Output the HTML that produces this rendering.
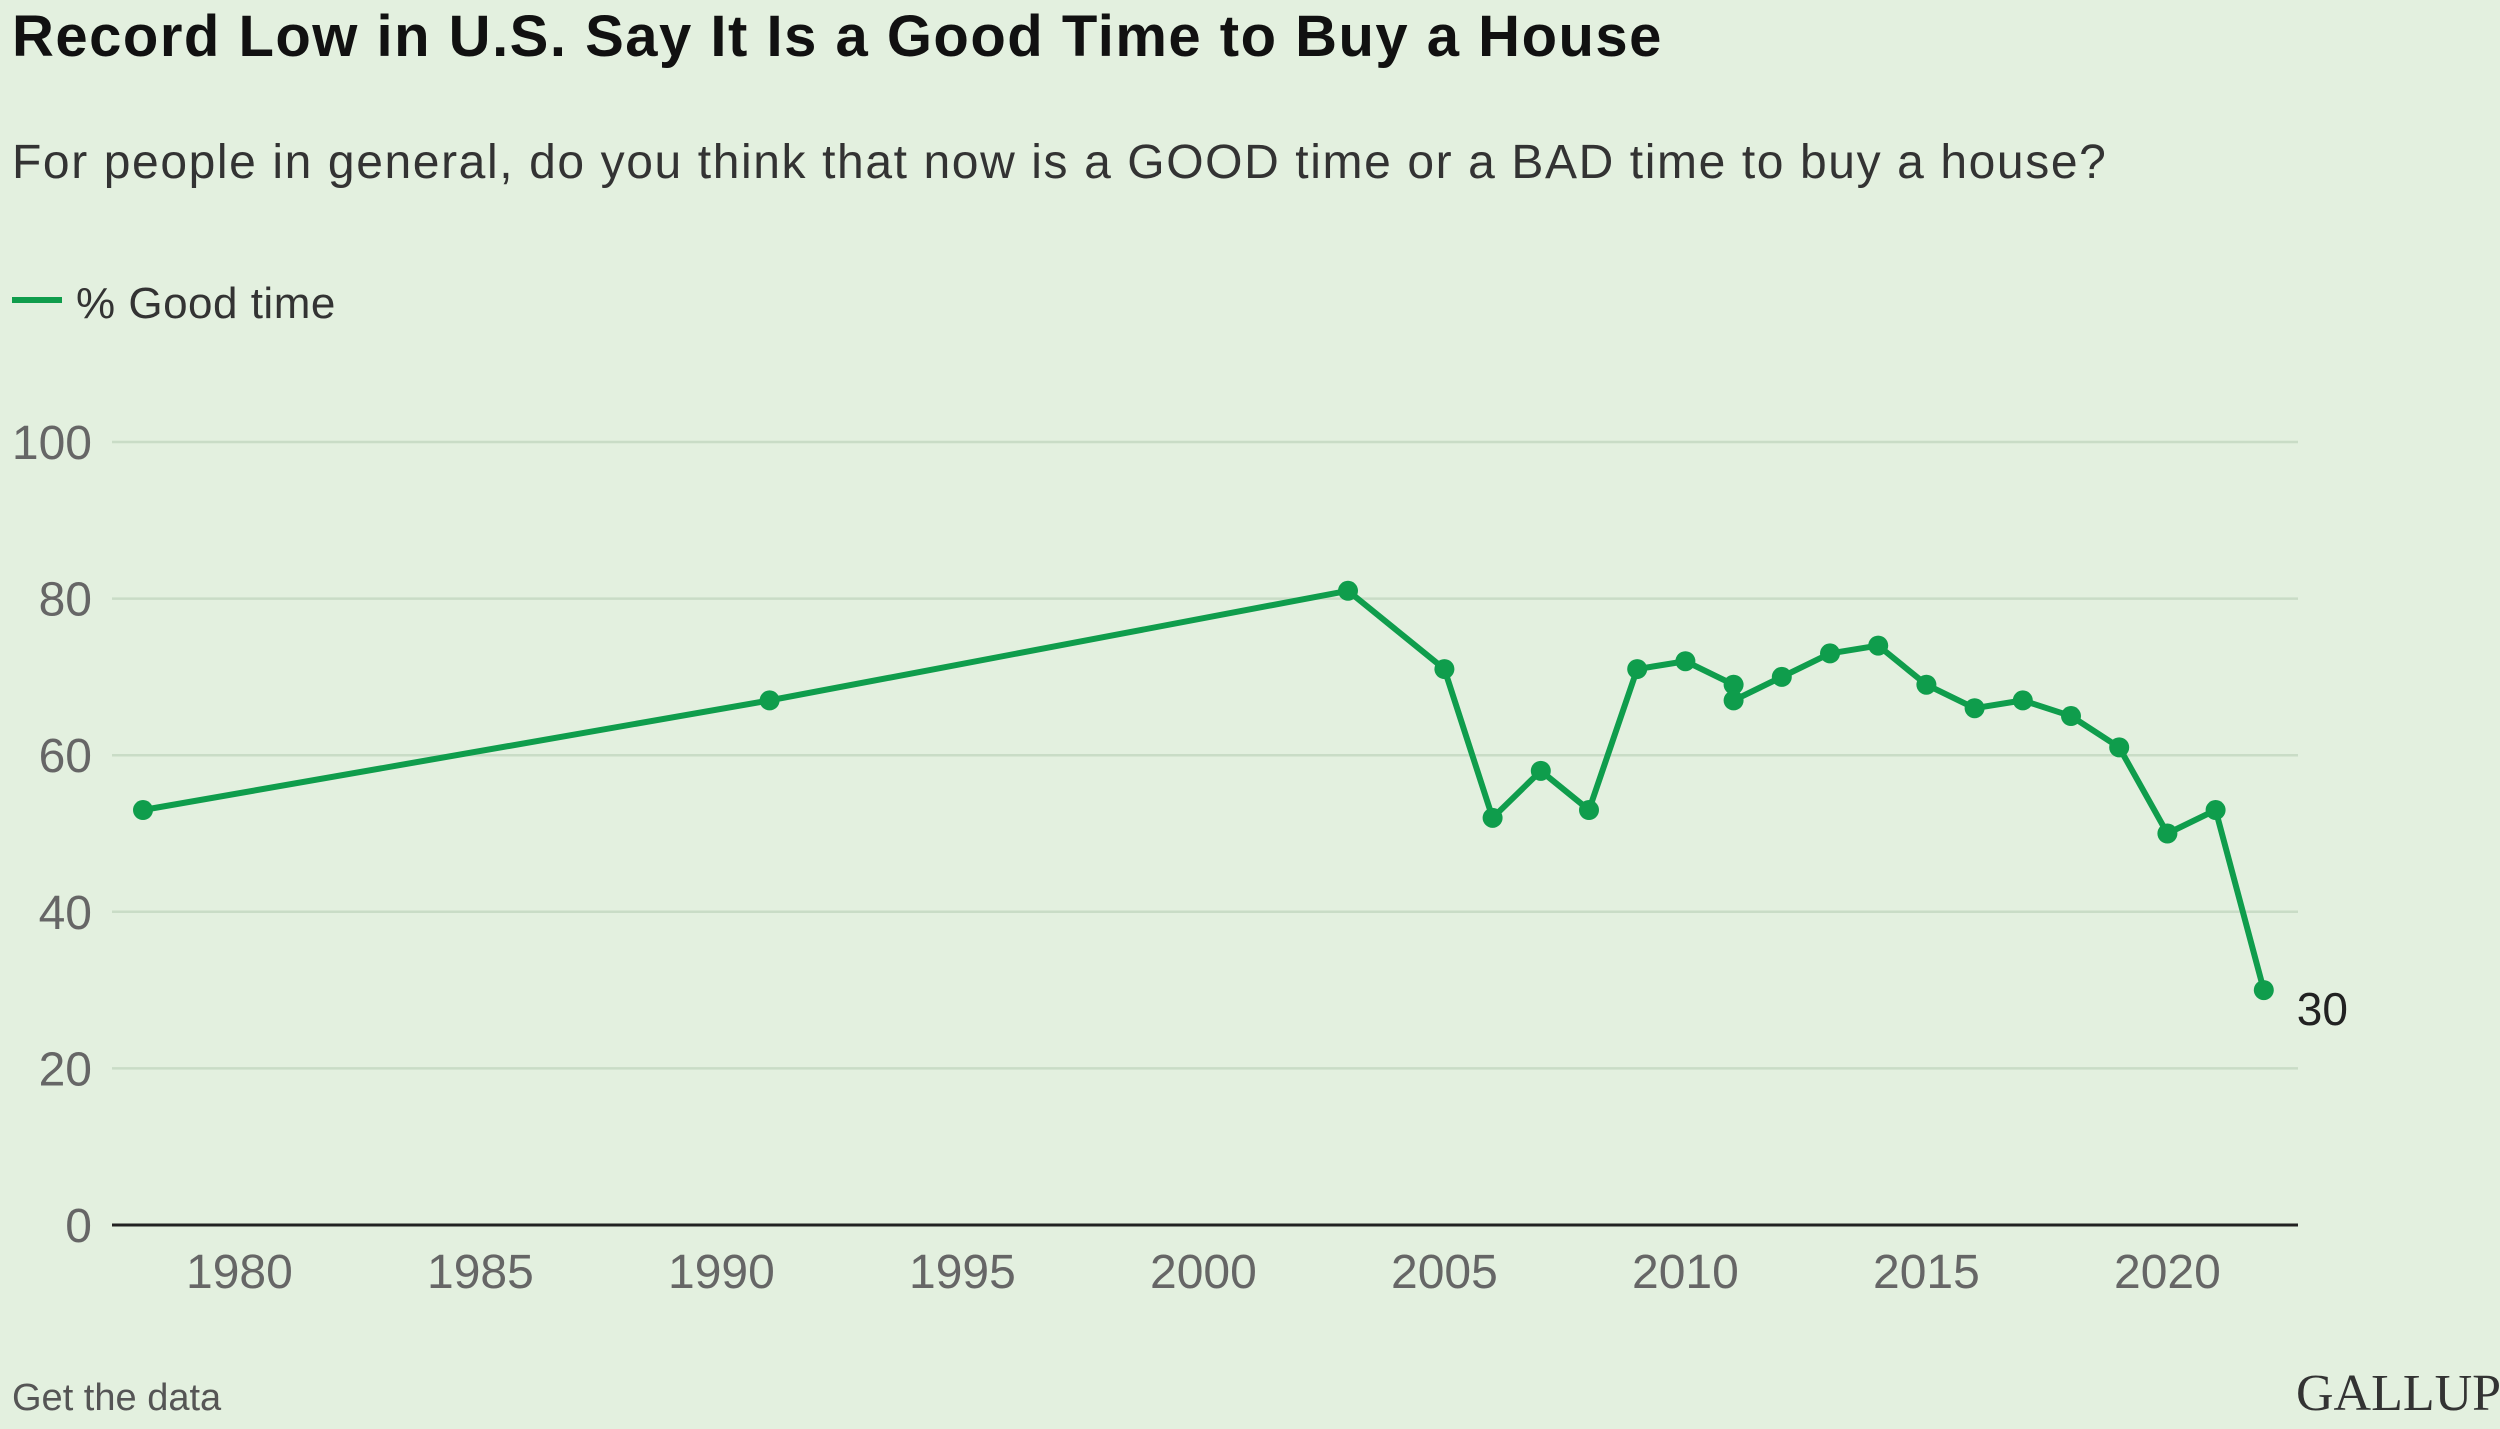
<!DOCTYPE html>
<html><head><meta charset="utf-8"><style>
body{margin:0;width:2500px;height:1424px;background:#e3f0df;overflow:hidden;font-family:"Liberation Sans",sans-serif}
</style></head><body>
<svg width="2500" height="1424" xmlns="http://www.w3.org/2000/svg">
<text x="12" y="56" font-size="58" font-weight="bold" fill="#111" letter-spacing="1.5">Record Low in U.S. Say It Is a Good Time to Buy a House</text>
<text x="12" y="178" font-size="48" fill="#333" letter-spacing="1.6">For people in general, do you think that now is a GOOD time or a BAD time to buy a house?</text>
<line x1="12" y1="300" x2="62" y2="300" stroke="#0f9d4c" stroke-width="6"/>
<text x="76" y="318" font-size="44" fill="#333" letter-spacing="0.5">% Good time</text>
<g id="grid"></g><g id="axes"></g><g id="marks"></g>
<text x="12" y="1410" font-size="38" fill="#555">Get the data</text>
<text x="2296" y="1410" font-size="52" fill="#333" font-family="Liberation Serif,serif">GALLUP</text>
</svg>
<script>
const years=[1978,1991,2003,2005,2006,2007,2008,2009,2010,2011,2011,2012,2013,2014,2015,2016,2017,2018,2019,2020,2021,2022];
const values=[53,67,81,71,52,58,53,71,72,69,67,70,73,74,69,66,67,65,61,50,53,30];
const yTicks=[0,20,40,60,80,100];
const xTicks=[1980,1985,1990,1995,2000,2005,2010,2015,2020];
const NS="http://www.w3.org/2000/svg";
const x=v=>143+(v-1978)*48.2;
const y=v=>1225-v*7.83;
function mk(t,a,p){const e=document.createElementNS(NS,t);for(const k in a)e.setAttribute(k,a[k]);p.appendChild(e);return e;}
const g=document.getElementById('grid'),ax=document.getElementById('axes'),m=document.getElementById('marks');
yTicks.forEach(t=>{
 if(t>0){const l=mk('line',{x1:112,x2:2298,y1:y(t),y2:y(t),stroke:'#c9dcc6','stroke-width':2.5},g);
 
 }
 const tx=mk('text',{x:92,y:y(t)+17,'text-anchor':'end','font-size':48,fill:'#666'},ax);tx.textContent=t;
 
 
});
const base=mk('line',{x1:112,x2:2298,y1:y(0),y2:y(0),stroke:'#222','stroke-width':3},ax);


xTicks.forEach(t=>{const tx=mk('text',{x:x(t),y:1288,'text-anchor':'middle','font-size':48,fill:'#666'},ax);tx.textContent=t;
 
 });
const pts=years.map((yr,i)=>x(yr)+','+y(values[i])).join(' ');
const pl=mk('polyline',{points:pts,fill:'none',stroke:'#0f9d4c','stroke-width':6,'stroke-linejoin':'round'},m);


years.forEach((yr,i)=>{const c=mk('circle',{cx:x(yr),cy:y(values[i]),r:10,fill:'#0f9d4c'},m);
 
 });
const last=values.length-1;
const lb=mk('text',{x:x(years[last])+33,y:y(values[last])+35,'font-size':46,fill:'#222'},m);lb.textContent=values[last];


</script>
</body></html>
